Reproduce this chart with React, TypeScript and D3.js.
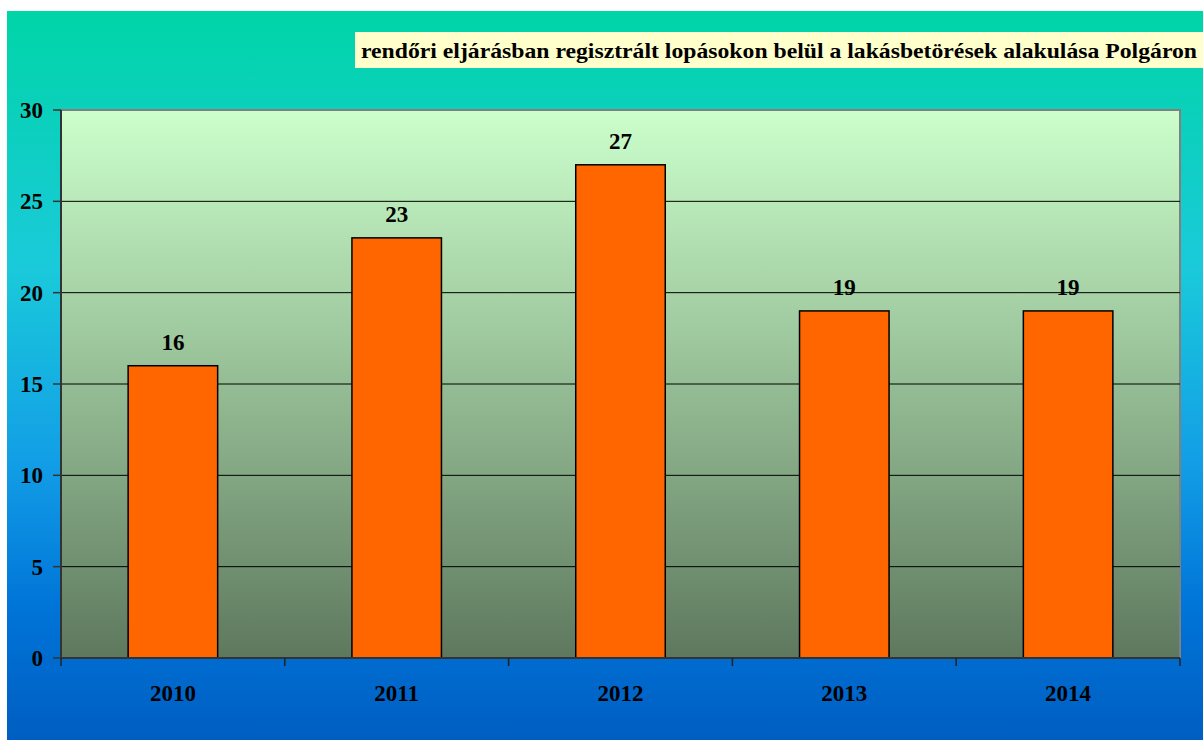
import React from "react";
import * as d3 from "d3";

const categories = ["2010", "2011", "2012", "2013", "2014"];
const values = [16, 23, 27, 19, 19];
const yTicks = [0, 5, 10, 15, 20, 25, 30];
const title = "rendőri eljárásban regisztrált lopásokon belül a lakásbetörések alakulása Polgáron";

export default function App() {
  const W = 1203, H = 740;
  const left = 61, right = 1180, top = 110, bottom = 658;
  const x = d3.scaleBand<string>().domain(categories).range([left, right]).paddingInner(0).paddingOuter(0);
  const y = d3.scaleLinear().domain([0, 30]).range([bottom, top]);
  const bw = x.bandwidth() * 0.4;
  const font = "Liberation Serif";
  return (
    <svg width={W} height={H} style={{ position: "absolute", left: 0, top: 0 }}>
      <defs>
        <linearGradient id="bg" x1="0" y1="0" x2="0" y2="1">
          <stop offset="0" stopColor="#00D5A7" />
          <stop offset="0.35" stopColor="#1ACADA" />
          <stop offset="0.62" stopColor="#129EE6" />
          <stop offset="0.82" stopColor="#0074D8" />
          <stop offset="1" stopColor="#005EC2" />
        </linearGradient>
        <linearGradient id="plot" x1="0" y1="0" x2="0" y2="1">
          <stop offset="0" stopColor="#CCFFCC" />
          <stop offset="0.5" stopColor="#95BD95" />
          <stop offset="1" stopColor="#5E785E" />
        </linearGradient>
      </defs>
      <rect x={0} y={0} width={W} height={H} fill="#fff" />
      <rect x={7} y={11} width={W - 7} height={H - 11} fill="url(#bg)" />
      <rect x={355} y={32} width={W - 355} height={36} fill="#FFFFCC" />
      <text x={361} y={58} style={{ fontFamily: font }} fontWeight="bold" fontSize={22} fill="#000" textLength={836} lengthAdjust="spacingAndGlyphs">{title}</text>
      <rect x={left} y={top} width={right - left} height={bottom - top} fill="url(#plot)" stroke="#808080" strokeWidth={2} />
      {yTicks.filter(t => t > 0 && t < 30).map(t => (
        <line key={"g" + t} x1={left} x2={right} y1={y(t)} y2={y(t)} stroke="#000" strokeWidth={1} />
      ))}
      {categories.map((c, i) => (
        <rect key={c} x={x(c)! + (x.bandwidth() - bw) / 2} y={y(values[i])} width={bw} height={bottom - y(values[i])} fill="#FF6600" stroke="#000" strokeWidth={1.5} />
      ))}
      {categories.map((c, i) => (
        <text key={"l" + c} x={x(c)! + x.bandwidth() / 2} y={y(values[i]) - 16} textAnchor="middle" style={{ fontFamily: font }} fontWeight="bold" fontSize={23} fill="#000">{values[i]}</text>
      ))}
      <line x1={left} x2={left} y1={top} y2={bottom} stroke="#333" strokeWidth={2} />
      <line x1={left} x2={right} y1={bottom} y2={bottom} stroke="#333" strokeWidth={2} />
      {yTicks.map(t => (
        <g key={"y" + t}>
          <line x1={left - 8} x2={left} y1={y(t)} y2={y(t)} stroke="#333" strokeWidth={1.5} />
          <text x={43} y={y(t) + 8} textAnchor="end" style={{ fontFamily: font }} fontWeight="bold" fontSize={23} fill="#000">{t}</text>
        </g>
      ))}
      {[...categories.map(c => x(c)!), right].map((v, i) => (
        <line key={"xt" + i} x1={v} x2={v} y1={bottom} y2={bottom + 8} stroke="#222" strokeWidth={1.5} />
      ))}
      {categories.map(c => (
        <text key={"x" + c} x={x(c)! + x.bandwidth() / 2} y={701} textAnchor="middle" style={{ fontFamily: font }} fontWeight="bold" fontSize={23} fill="#000">{c}</text>
      ))}
    </svg>
  );
}
